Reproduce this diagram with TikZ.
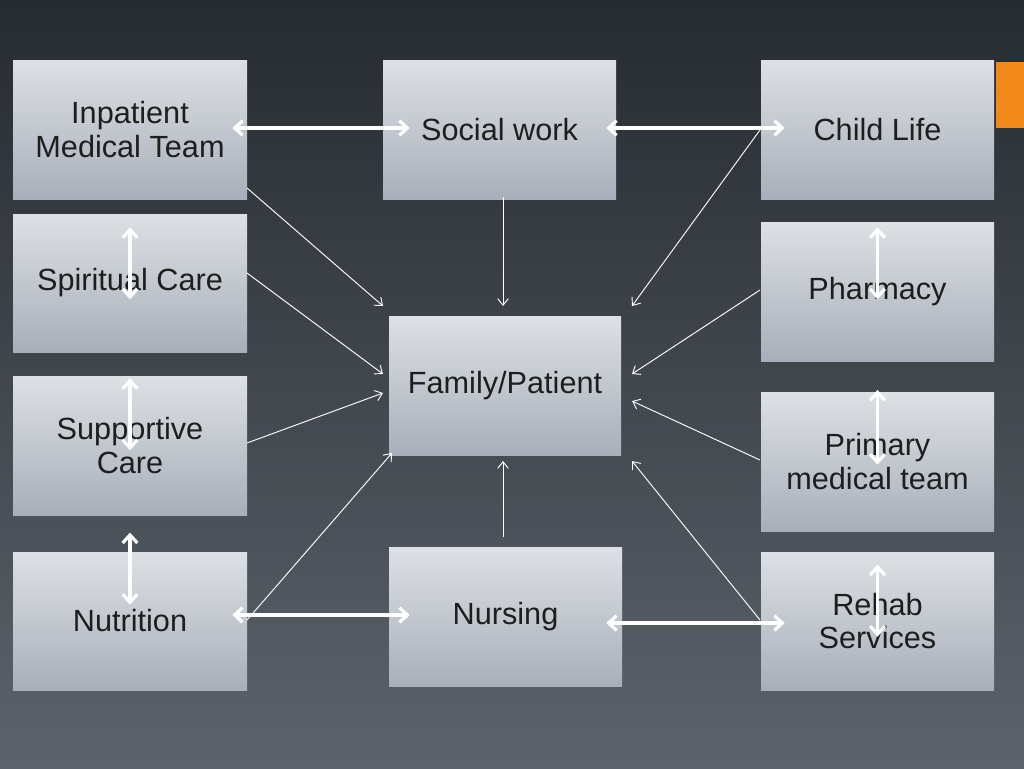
\documentclass[tikz,border=0pt]{standalone}
\usepackage{fontspec}
\setmainfont{Liberation Sans}
\usetikzlibrary{arrows.meta}
\definecolor{bgtop}{HTML}{262B30}
\definecolor{bgbot}{HTML}{5C636B}
\definecolor{btop}{HTML}{DDE0E4}
\definecolor{bbot}{HTML}{A8AFBA}
\definecolor{txt}{HTML}{1E1E1E}
\definecolor{orng}{HTML}{F28A1A}
\tikzset{
 box/.style={rectangle, top color=btop, bottom color=bbot, draw=none, inner sep=0pt,
   font=\fontsize{23}{25}\selectfont, text=txt, align=center},
 big/.style={draw=white, line width=2.4pt, {Straight Barb[length=6pt,width=11pt]}-{Straight Barb[length=6pt,width=11pt]}},
 thin/.style={draw=white, line width=0.7pt, -{Straight Barb[length=5pt,width=8pt]}}
}
\begin{document}
\begin{tikzpicture}[x=0.75pt,y=-0.75pt]
\fill[top color=bgtop,bottom color=bgbot] (0,0) rectangle (1024,768);
\useasboundingbox (0,0) rectangle (1024,768);
\fill[orng] (996,62) rectangle (1024,128);
\newcommand\bx[6]{\node[box,minimum width=#4*0.75pt,minimum height=#5*0.75pt] (#1) at (#2,#3) {#6};}
\bx{inp}{130}{129.5}{234}{139}{Inpatient\\Medical Team}
\bx{soc}{499.5}{129.5}{233}{139}{Social work}
\bx{chl}{877.5}{129.5}{233}{139}{Child Life}
\bx{spi}{130}{283}{234}{138}{Spiritual Care}
\bx{pha}{877.5}{291.5}{233}{139}{Pharmacy}
\bx{fam}{505}{385.5}{232}{139}{Family/Patient}
\bx{sup}{130}{445.5}{234}{139}{Supportive\\Care}
\bx{pri}{877.5}{461.5}{233}{139}{Primary\\medical team}
\bx{nut}{130}{621}{234}{138}{Nutrition}
\bx{nur}{505.5}{616.5}{233}{139}{Nursing}
\bx{reh}{877.5}{621}{233}{138}{Rehab\\Services}
\draw[big] ([xshift=-11.25pt]inp.east |- 0,128) -- ([xshift=20.25pt]soc.west |- 0,128);
\draw[big] ([xshift=-7.5pt]soc.east |- 0,128) -- ([xshift=18pt]chl.west |- 0,128);
\draw[big] (inp.south) ++(0,-21pt) -- ++(0,-54pt);
\draw[big] (spi.south) ++(0,-19.5pt) -- ++(0,-54pt);
\draw[big] (sup.south) ++(0,-13pt) -- ++(0,-54pt);
\draw[big] ([xshift=-11.25pt]nut.east |- 0,615) -- ([xshift=15.75pt]nur.west |- 0,615);
\draw[big] ([xshift=-12pt]nur.east |- 0,623) -- ([xshift=18pt]reh.west |- 0,623);
\draw[big] (chl.south) ++(0,-21pt) -- ++(0,-54pt);
\draw[big] (pha.south) ++(0,-21.5pt) -- ++(0,-56pt);
\draw[big] (pri.south) ++(0,-25pt) -- ++(0,-54pt);
\coordinate (a1) at (247,188); \coordinate (b1) at (383,306);
\coordinate (a2) at (247,273); \coordinate (b2) at (383,374);
\coordinate (a3) at (247,443); \coordinate (b3) at (383,393);
\coordinate (a4) at (247,620); \coordinate (b4) at (392,453);
\coordinate (a5) at (503,197); \coordinate (b5) at (503,306);
\coordinate (a6) at (503,537); \coordinate (b6) at (503,461);
\coordinate (a7) at (760,130); \coordinate (b7) at (632,306);
\coordinate (a8) at (760,290); \coordinate (b8) at (632,374);
\coordinate (a9) at (760,460); \coordinate (b9) at (632,401);
\coordinate (a10) at (760,620); \coordinate (b10) at (632,461);
\foreach \i in {1,...,10}{\draw[thin] (a\i) -- (b\i);}
\end{tikzpicture}
\end{document}
